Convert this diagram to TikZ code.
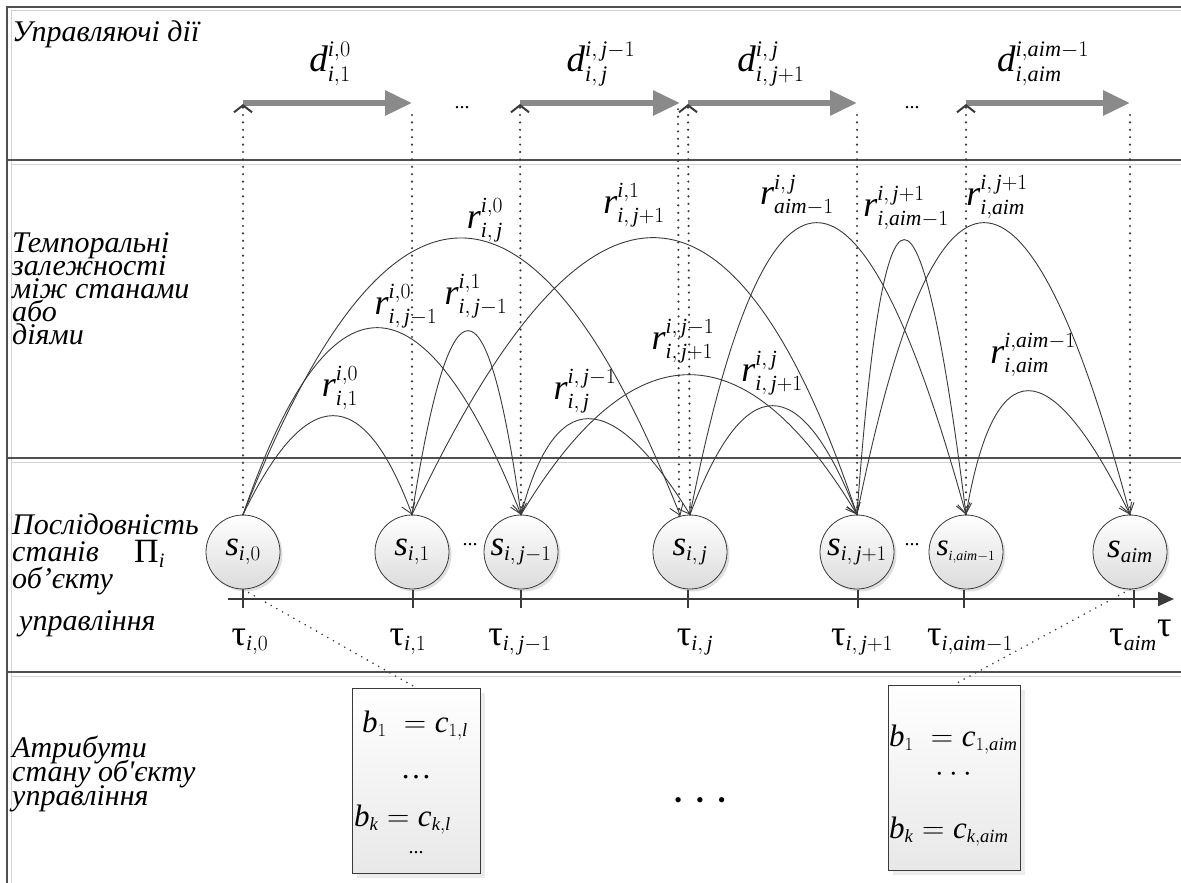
\documentclass[tikz,border=0pt]{standalone}
\usepackage{fix-cm}
\usepackage{fontspec}
\setmainfont{Liberation Serif}
\usetikzlibrary{arrows.meta,calc,shadows}
\renewcommand{\defaultscriptratio}{.6}
\renewcommand{\defaultscriptscriptratio}{.45}
\newcommand{\mi}[1]{\mathit{#1}}
\newcommand{\J}{\,\mathit{j}}
\newcommand{\SL}[3]{$\mathit{#1}^{\raisebox{2.5pt}{$\scriptstyle #2$}}_{#3}$}
\newcommand{\qarc}[3]{\draw[rarc] (#1) .. controls ($(#1)!0.6667!(#2)$) and ($(#3)!0.6667!(#2)$) .. (#3);}
\definecolor{dk}{HTML}{3A3A3A}
\definecolor{actc}{HTML}{8A8A8A}
\definecolor{frm}{HTML}{505050}
\definecolor{frl}{HTML}{D4D4D4}
\tikzset{
  lbl/.style={font=\fontsize{30}{24}\selectfont\itshape, anchor=base west, inner sep=0pt},
  stt/.style={circle, draw=dk, line width=0.8pt, minimum size=74pt, inner sep=0pt,
     top color=white, bottom color=black!14,
     drop shadow={shadow xshift=2.5pt, shadow yshift=-2.5pt, fill=black!25},
     font=\fontsize{35}{37}\selectfont},
  attbox/.style={draw=dk, line width=0.8pt, top color=white, bottom color=black!9,
     drop shadow={shadow xshift=5pt, shadow yshift=-5pt, fill=black!15}, inner sep=0pt},
  actarr/.style={draw=actc, line width=6pt, -{Triangle[length=27pt,width=24pt]}},
  dots/.style={draw=dk, line width=2.4pt, line cap=round, dash pattern=on 0pt off 7.4pt},
  caret/.style={-{Straight Barb[length=7pt,width=18pt,line width=2pt]}},
  rarc/.style={draw=dk, line width=0.9pt, -{Straight Barb[length=10pt,width=14pt]}},
  rlab/.style={font=\fontsize{36}{38}\selectfont, inner sep=0pt},
  dlab/.style={font=\fontsize{37}{39}\selectfont, inner sep=0pt, anchor=base},
  tlab/.style={font=\fontsize{36}{38}\selectfont, inner sep=0pt, anchor=base},
  ell/.style={font=\fontsize{20}{22}\selectfont, inner sep=0pt},
  blab/.style={font=\fontsize{31}{33}\selectfont, inner sep=0pt, anchor=base west},
  tick/.style={draw=dk, line width=2.5pt}
}
\begin{document}
\begin{tikzpicture}[x=1pt,y=-1pt]
\useasboundingbox (0,0) rectangle (1181,883);
% frame and band separators
\draw[frl, line width=1pt] (11,883) -- (11,11) -- (1181,11);
\draw[frm, line width=1.3pt] (7,883) -- (7,7) -- (1181,7);
\foreach \yy in {160,458,672}{
  \draw[frl, line width=1pt] (11,\yy+4) -- (1181,\yy+4);
  \draw[frm, line width=1.3pt] (7,\yy) -- (1181,\yy);
}
% band labels
\node[lbl] (ta) at (12,42) {Управляючі дії};
\node[lbl] (tb1) at (12,252) {Темпоральні};
\node[lbl] (tb2) at (12,275) {залежності};
\node[lbl] (tb3) at (12,298) {між станами};
\node[lbl] (tb4) at (12,321) {або};
\node[lbl] (tb5) at (12,344) {діями};
\node[lbl] (tc1) at (12,534) {Послідовність};
\node[lbl] (tc2) at (12,561) {станів};
\node[tlab, anchor=base west, font=\fontsize{34}{36}\selectfont] (tpi) at (134,562) {Π$_{\mi{i}}$};
\node[lbl] (tc3) at (12,588) {об’єкту};
\node[lbl] (tc4) at (19,630) {управління};
\node[lbl] (td1) at (12,757) {Атрибути};
\node[lbl] (td2) at (12,781) {стану об\textquotesingle єкту};
\node[lbl] (td3) at (12,805) {управління};

% states
\node[stt] (s0)   at (243,552)  {$\mi{s}_{\mi{i},0}$};
\node[stt] (s1)   at (412,552)  {$\mi{s}_{\mi{i},1}$};
\node[stt] (sjm)  at (521,552)  {$\mi{s}_{\mi{i},\J-1}$};
\node[stt] (sj)   at (690,552)  {$\mi{s}_{\mi{i},\J}$};
\node[stt] (sjp)  at (857,552)  {$\mi{s}_{\mi{i},\J+1}$};
\node[stt, font=\fontsize{31}{33}\selectfont] (sam) at (966,552) {$\mi{s}_{\scriptscriptstyle\mi{i},\mi{aim}-1}$};
\node[stt] (saim) at (1130,552) {$\mi{s}_{\mi{aim}}$};
\node[ell] (e1) at (470,545) {...};
\node[ell] (e2) at (912,545) {...};

% time axis
\draw[tick, -{Triangle[length=16pt,width=14pt]}] (228,599) -- (1174,599);
\foreach \xx in {243,413,521,688,858,964,1134}{
  \draw[tick] (\xx,590) -- (\xx,608);
}
\node[tlab] (t0) at (250,645) {τ$_{\mi{i},0}$};
\node[tlab] (t1) at (408,645) {τ$_{\mi{i},1}$};
\node[tlab] (t2) at (520,645) {τ$_{\mi{i},\J-1}$};
\node[tlab] (t3) at (695,645) {τ$_{\mi{i},\J}$};
\node[tlab] (t4) at (862,645) {τ$_{\mi{i},\J+1}$};
\node[tlab] (t5) at (970,645) {τ$_{\mi{i},\mi{aim}-1}$};
\node[tlab] (t6) at (1133,645) {τ$_{\mi{aim}}$};
\node[tlab, anchor=base west] (tt) at (1157,636) {τ};

% control actions
\coordinate (a0) at (243,103); \coordinate (a1) at (412,103);
\coordinate (a2) at (520,103); \coordinate (a3) at (680,103);
\coordinate (a4) at (688,103); \coordinate (a5) at (857,103);
\coordinate (a6) at (966,103); \coordinate (a7) at (1130,103);
\draw[actarr] (a0) -- (a1);
\draw[actarr] (a2) -- (a3);
\draw[actarr] (a4) -- (a5);
\draw[actarr] (a6) -- (a7);
\node[dlab] (d1) at (330,72)  {\SL{d}{\mi{i},0}{\mi{i},1}};
\node[dlab] (d2) at (601,72)  {\SL{d}{\mi{i},\J-1}{\mi{i},\J}};
\node[dlab] (d3) at (771,72)  {\SL{d}{\mi{i},\J}{\mi{i},\J+1}};
\node[dlab] (d4) at (1043,72) {\SL{d}{\mi{i},\mi{aim}-1}{\mi{i},\mi{aim}}};
\node[ell] (e3) at (462,108) {...};
\node[ell] (e4) at (912,108) {...};

% projections of states onto actions
\coordinate (c0) at (243,104); \coordinate (c1) at (412,108);
\coordinate (c2) at (520,104); \coordinate (c3) at (678,108);
\coordinate (c4) at (688,104); \coordinate (c5) at (857,108);
\coordinate (c6) at (966,104); \coordinate (c7) at (1130,108);
\draw[dots, caret] (s0.north) -- (c0);
\draw[dots] (s1.north) -- (c1);
\draw[dots, caret] (sjm.north) -- (c2);
\draw[dots] (sj.107) -- (c3);
\draw[dots, caret] (sj.north) -- (c4);
\draw[dots] (sjp.north) -- (c5);
\draw[dots, caret] (sam.north) -- (c6);
\draw[dots] (saim.north) -- (c7);

% temporal dependencies
\qarc{s0.north}{338.5,317}{s1.north}
\qarc{s0.north}{372,141}{sjm.north}
\qarc{s0.north}{460.5,-39}{sj.105}
\qarc{s1.north}{469.5,147}{sjm.north}
\qarc{s1.north}{671.5,-39}{sjp.north}
\qarc{sjm.north}{571.5,323}{sj.north}
\qarc{sjm.north}{689,235}{sjp.north}
\qarc{sj.north}{771.5,297}{sjp.north}
\qarc{sj.north}{805.5,-69}{sam.north}
\qarc{sjp.north}{897,-35}{sam.north}
\qarc{sjp.north}{974.5,-69}{saim.north}
\qarc{sam.north}{1008.5,267}{saim.north}
\node[rlab] (r1)  at (340,388)  {\SL{r}{\mi{i},0}{\mi{i},1}};
\node[rlab] (r2)  at (406,306)  {\SL{r}{\mi{i},0}{\mi{i},\J-1}};
\node[rlab] (r3)  at (485,220)  {\SL{r}{\mi{i},0}{\mi{i},\J}};
\node[rlab] (r4)  at (476,296)  {\SL{r}{\mi{i},1}{\mi{i},\J-1}};
\node[rlab] (r5)  at (634,205)  {\SL{r}{\mi{i},1}{\mi{i},\J+1}};
\node[rlab] (r6)  at (585,391)  {\SL{r}{\mi{i},\J-1}{\mi{i},\J}};
\node[rlab] (r7)  at (683,341)  {\SL{r}{\mi{i},\J-1}{\mi{i},\J+1}};
\node[rlab] (r8)  at (772,373)  {\SL{r}{\mi{i},\J}{\mi{i},\J+1}};
\node[rlab] (r9)  at (797,195)  {\SL{r}{\mi{i},\J}{\mi{aim}-1}};
\node[rlab] (r10) at (906,208)  {\SL{r}{\mi{i},\J+1}{\mi{i},\mi{aim}-1}};
\node[rlab] (r11) at (997,197)  {\SL{r}{\mi{i},\J+1}{\mi{i},\mi{aim}}};
\node[rlab] (r12) at (1033,355) {\SL{r}{\mi{i},\mi{aim}-1}{\mi{i},\mi{aim}}};

% attribute boxes
\node[attbox, minimum width=128pt, minimum height=185pt] (bx1) at (416,780.5) {};
\node[attbox, minimum width=132pt, minimum height=185pt] (bx2) at (954,777.5) {};
\node[blab] (b11) at (362,732) {$\mi{b}_1\;=\mi{c}_{1,\mi{l}}$};
\node[blab, anchor=base] (b12) at (416,778) {…};
\node[blab] (b13) at (354,826) {$\mi{b}_{\mi{k}}=\mi{c}_{\mi{k},\mi{l}}$};
\node[ell, anchor=base] (b14) at (416,853) {...};
\node[blab] (b21) at (889,746) {$\mi{b}_1\;=\mi{c}_{1,\mi{aim}}$};
\node[blab, anchor=center] (b22) at (954,775) {$\cdots$};
\node[blab] (b23) at (889,838) {$\mi{b}_{\mi{k}}=\mi{c}_{\mi{k},\mi{aim}}$};
\node[font=\fontsize{22}{24}\selectfont, inner sep=0pt] (bd) at (700,803) {\textbullet\hspace{14pt}\textbullet\hspace{14pt}\textbullet};
\draw[dots, line width=1.8pt, dash pattern=on 0pt off 6.5pt] (s0.south) -- (bx1.north);
\draw[dots, line width=1.8pt, dash pattern=on 0pt off 6.5pt] (saim.south) -- (bx2.north);
\end{tikzpicture}
\end{document}
